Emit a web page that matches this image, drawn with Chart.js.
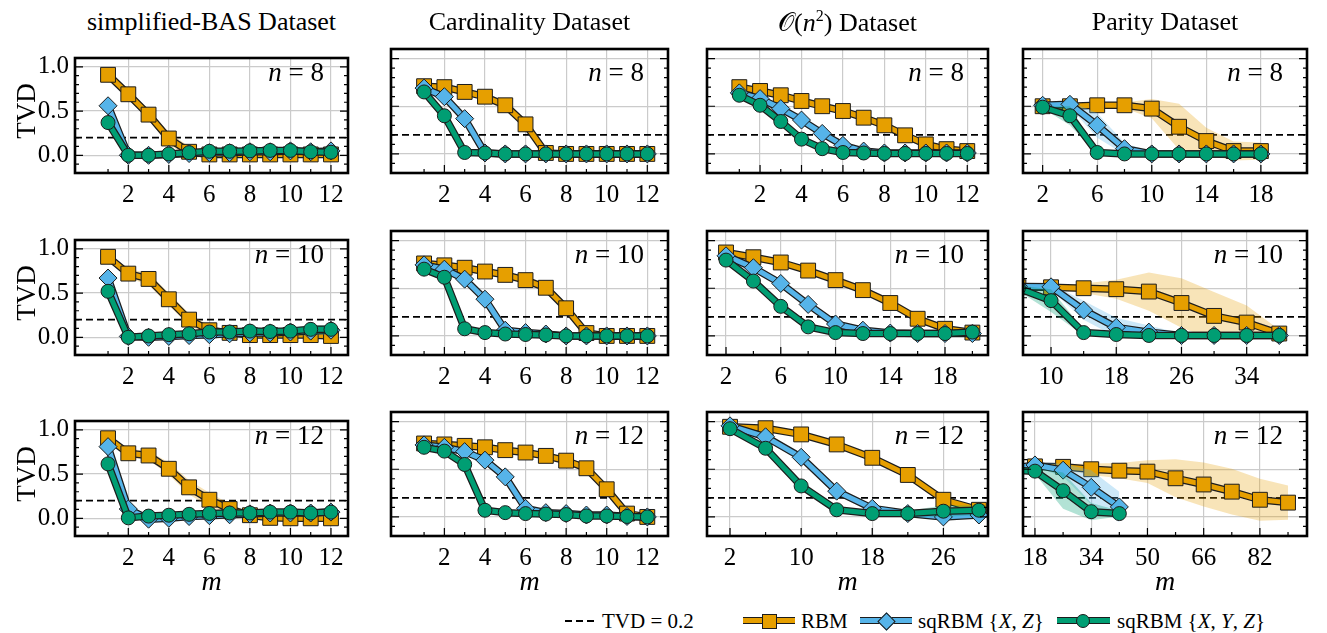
<!DOCTYPE html>
<html>
<head>
<meta charset="utf-8">
<script src="https://cdn.jsdelivr.net/npm/chart.js@4.4.1/dist/chart.umd.min.js"></script>
<style>
  body { margin: 0; background: #fff; }
  #page { position: relative; width: 1327px; height: 633px; overflow: hidden; font-family: 'Liberation Serif', 'DejaVu Serif', serif; }
  #page canvas { position: absolute; }
  .t { position: absolute; white-space: nowrap; color: #000; line-height: 1; }
</style>
</head>
<body>
<div id="page"></div>
<script>
// ---- x values and tick labels ----
const basM = [1, 2, 3, 4, 5, 6, 7, 8, 9, 10, 11, 12];
const basMajor = [2, 4, 6, 8, 10, 12];
const par8M = [2, 4, 6, 8, 10, 12, 14, 16, 18];
const par8Major = [2, 6, 10, 14, 18];
const o10M = [2, 4, 6, 8, 10, 12, 14, 16, 18, 20];
const o10Major = [2, 6, 10, 14, 18];
const par10M = [6, 10, 14, 18, 22, 26, 30, 34, 38];
const par10Major = [10, 18, 26, 34];
const o12M = [2, 6, 10, 14, 18, 22, 26, 30];
const o12Major = [2, 10, 18, 26];
const par12M = [10, 18, 26, 34, 42, 50, 58, 66, 74, 82, 90];
const par12SqM = [10, 18, 26, 34, 42];
const par12Major = [18, 34, 50, 66, 82];
const yMajor = [0.0, 0.5, 1.0];
const yMinor = [-0.1, 0.0, 0.1, 0.2, 0.3, 0.4, 0.5, 0.6, 0.7, 0.8, 0.9, 1.0];

const datasetTitles = ['simplified-BAS Dataset', 'Cardinality Dataset', '<span style="font-family:\'DejaVu Sans\'">𝒪</span>(<i>n</i><sup style="font-size:16px">2</sup>) Dataset', 'Parity Dataset'];
const qubitCounts = [8, 10, 12];

// ---- n = 8 ----
const bas8Rbm = [0.91, 0.69, 0.46, 0.19, 0.04, 0.01, 0.01, 0.01, 0.01, 0.01, 0.01, 0.01];
const bas8Xz = [0.56, 0.0, 0.0, 0.01, 0.02, 0.03, 0.03, 0.04, 0.04, 0.05, 0.04, 0.05];
const bas8Xyz = [0.37, 0.0, 0.0, 0.015, 0.03, 0.045, 0.045, 0.05, 0.055, 0.055, 0.04, 0.035];
const bas8RbmSd = [0.03, 0.05, 0.06, 0.07, 0.06, 0.04, 0.02, 0.01, 0.01, 0.01, 0.01, 0.01];
const bas8XzSd = [0.02, 0.01, 0.01, 0.01, 0.01, 0.01, 0.01, 0.02, 0.03, 0.03, 0.03, 0.04];
const bas8XyzSd = [0.02, 0.01, 0.01, 0.01, 0.01, 0.01, 0.01, 0.01, 0.02, 0.02, 0.02, 0.02];

const card8Rbm = [0.71, 0.70, 0.65, 0.60, 0.51, 0.31, 0.01, 0.0, 0.0, 0.0, 0.0, 0.0];
const card8Xz = [0.69, 0.60, 0.37, 0.01, 0.0, 0.0, 0.0, 0.0, 0.0, 0.0, 0.0, 0.0];
const card8Xyz = [0.65, 0.40, 0.015, 0.01, 0.0, 0.0, 0.0, 0.0, 0.0, 0.0, 0.0, 0.0];
const card8RbmSd = [0.01, 0.01, 0.01, 0.01, 0.01, 0.01, 0.01, 0.01, 0.01, 0.01, 0.01, 0.01];
const card8XzSd = [0.01, 0.01, 0.01, 0.01, 0.01, 0.01, 0.01, 0.01, 0.01, 0.01, 0.01, 0.01];
const card8XyzSd = [0.01, 0.01, 0.01, 0.01, 0.01, 0.01, 0.01, 0.01, 0.01, 0.01, 0.01, 0.01];

const o8Rbm = [0.70, 0.66, 0.615, 0.555, 0.50, 0.45, 0.38, 0.30, 0.195, 0.10, 0.05, 0.03];
const o8Xz = [0.64, 0.58, 0.475, 0.355, 0.215, 0.09, 0.03, 0.01, 0.01, 0.01, 0.01, 0.01];
const o8Xyz = [0.615, 0.51, 0.34, 0.155, 0.055, 0.015, 0.01, 0.005, 0.005, 0.005, 0.005, 0.005];
const o8RbmSd = [0.01, 0.01, 0.01, 0.01, 0.01, 0.01, 0.01, 0.01, 0.01, 0.01, 0.01, 0.01];
const o8XzSd = [0.01, 0.01, 0.01, 0.01, 0.01, 0.01, 0.01, 0.01, 0.01, 0.01, 0.01, 0.01];
const o8XyzSd = [0.01, 0.01, 0.01, 0.01, 0.01, 0.01, 0.01, 0.01, 0.01, 0.01, 0.01, 0.01];

const par8Rbm = [0.50, 0.50, 0.51, 0.51, 0.475, 0.285, 0.135, 0.03, 0.03];
const par8Xz = [0.51, 0.52, 0.30, 0.055, 0.0, 0.0, 0.0, 0.0, 0.0];
const par8Xyz = [0.49, 0.40, 0.015, 0.0, 0.0, 0.0, 0.0, 0.0, 0.0];
const par8RbmSd = [0.01, 0.01, 0.01, 0.03, 0.10, 0.24, 0.14, 0.10, 0.09];
const par8XzSd = [0.01, 0.03, 0.13, 0.06, 0.02, 0.01, 0.01, 0.01, 0.01];
const par8XyzSd = [0.01, 0.10, 0.02, 0.01, 0.01, 0.01, 0.01, 0.01, 0.01];

// ---- n = 10 ----
const bas10Rbm = [0.91, 0.72, 0.66, 0.43, 0.20, 0.08, 0.05, 0.025, 0.025, 0.025, 0.025, 0.015];
const bas10Xz = [0.67, 0.01, 0.0, 0.01, 0.02, 0.03, 0.04, 0.05, 0.05, 0.06, 0.07, 0.08];
const bas10Xyz = [0.52, 0.0, 0.015, 0.03, 0.04, 0.06, 0.06, 0.07, 0.065, 0.07, 0.09, 0.09];
const bas10RbmSd = [0.03, 0.05, 0.07, 0.07, 0.07, 0.05, 0.03, 0.02, 0.02, 0.02, 0.02, 0.02];
const bas10XzSd = [0.02, 0.01, 0.01, 0.01, 0.01, 0.01, 0.02, 0.03, 0.03, 0.04, 0.05, 0.05];
const bas10XyzSd = [0.02, 0.01, 0.01, 0.01, 0.01, 0.01, 0.02, 0.02, 0.03, 0.04, 0.05, 0.05];

const card10Rbm = [0.76, 0.74, 0.715, 0.675, 0.64, 0.585, 0.505, 0.29, 0.03, 0.0, 0.0, 0.0];
const card10Xz = [0.745, 0.70, 0.595, 0.385, 0.06, 0.035, 0.02, 0.0, 0.0, 0.0, 0.0, 0.0];
const card10Xyz = [0.70, 0.615, 0.075, 0.035, 0.02, 0.015, 0.01, 0.0, 0.0, 0.0, 0.0, 0.0];
const card10RbmSd = [0.01, 0.01, 0.01, 0.01, 0.01, 0.01, 0.01, 0.01, 0.01, 0.01, 0.01, 0.01];
const card10XzSd = [0.01, 0.01, 0.01, 0.01, 0.01, 0.01, 0.01, 0.01, 0.01, 0.01, 0.01, 0.01];
const card10XyzSd = [0.01, 0.01, 0.01, 0.01, 0.01, 0.01, 0.01, 0.01, 0.01, 0.01, 0.01, 0.01];

const o10Rbm = [0.875, 0.825, 0.77, 0.685, 0.585, 0.48, 0.345, 0.18, 0.075, 0.035];
const o10Xz = [0.84, 0.715, 0.55, 0.33, 0.125, 0.06, 0.03, 0.025, 0.025, 0.025];
const o10Xyz = [0.795, 0.575, 0.31, 0.095, 0.035, 0.025, 0.025, 0.025, 0.025, 0.04];
const o10RbmSd = [0.01, 0.01, 0.01, 0.01, 0.01, 0.01, 0.01, 0.01, 0.01, 0.01];
const o10XzSd = [0.01, 0.01, 0.01, 0.01, 0.01, 0.01, 0.01, 0.01, 0.02, 0.03];
const o10XyzSd = [0.01, 0.01, 0.01, 0.01, 0.01, 0.01, 0.01, 0.01, 0.02, 0.03];

const par10Rbm = [0.51, 0.51, 0.50, 0.49, 0.465, 0.345, 0.21, 0.14, 0.025];
const par10Xz = [0.52, 0.515, 0.27, 0.09, 0.04, 0.005, 0.005, 0.005, 0.005];
const par10Xyz = [0.50, 0.37, 0.035, 0.015, 0.005, 0.005, 0.005, 0.005, 0.005];
const par10RbmSd = [0.01, 0.01, 0.05, 0.10, 0.20, 0.26, 0.25, 0.18, 0.04];
const par10XzSd = [0.02, 0.03, 0.10, 0.10, 0.07, 0.02, 0.01, 0.01, 0.01];
const par10XyzSd = [0.03, 0.12, 0.03, 0.01, 0.01, 0.01, 0.01, 0.01, 0.01];

// ---- n = 12 ----
const bas12Rbm = [0.905, 0.735, 0.71, 0.56, 0.35, 0.21, 0.105, 0.035, 0.005, 0.0, 0.0, 0.0];
const bas12Xz = [0.81, 0.105, -0.01, 0.0, 0.02, 0.03, 0.04, 0.05, 0.06, 0.06, 0.06, 0.07];
const bas12Xyz = [0.615, 0.005, 0.025, 0.035, 0.045, 0.055, 0.06, 0.06, 0.07, 0.07, 0.06, 0.07];
const bas12RbmSd = [0.03, 0.05, 0.05, 0.07, 0.08, 0.08, 0.06, 0.03, 0.02, 0.02, 0.02, 0.02];
const bas12XzSd = [0.02, 0.02, 0.01, 0.01, 0.01, 0.01, 0.02, 0.02, 0.02, 0.03, 0.04, 0.05];
const bas12XyzSd = [0.02, 0.01, 0.01, 0.01, 0.01, 0.01, 0.01, 0.02, 0.02, 0.02, 0.03, 0.03];

const card12Rbm = [0.77, 0.76, 0.745, 0.73, 0.70, 0.675, 0.64, 0.59, 0.51, 0.29, 0.035, 0.0];
const card12Xz = [0.755, 0.73, 0.685, 0.595, 0.42, 0.09, 0.045, 0.035, 0.02, 0.02, 0.005, 0.0];
const card12Xyz = [0.73, 0.69, 0.55, 0.07, 0.045, 0.035, 0.03, 0.025, 0.01, 0.01, 0.005, 0.0];
const card12RbmSd = [0.01, 0.01, 0.01, 0.01, 0.01, 0.01, 0.01, 0.01, 0.01, 0.01, 0.01, 0.01];
const card12XzSd = [0.01, 0.01, 0.01, 0.01, 0.01, 0.01, 0.01, 0.01, 0.01, 0.01, 0.01, 0.01];
const card12XyzSd = [0.01, 0.01, 0.01, 0.01, 0.01, 0.01, 0.01, 0.01, 0.01, 0.01, 0.01, 0.01];

const o12Rbm = [0.945, 0.93, 0.865, 0.76, 0.62, 0.44, 0.18, 0.075];
const o12Xz = [0.955, 0.84, 0.625, 0.27, 0.09, 0.035, 0.0, 0.02];
const o12Xyz = [0.925, 0.72, 0.325, 0.075, 0.035, 0.035, 0.06, 0.07];
const o12RbmSd = [0.01, 0.01, 0.01, 0.01, 0.01, 0.01, 0.01, 0.01];
const o12XzSd = [0.01, 0.01, 0.01, 0.01, 0.01, 0.02, 0.03, 0.03];
const o12XyzSd = [0.01, 0.01, 0.01, 0.01, 0.01, 0.03, 0.06, 0.05];

const par12Rbm = [0.51, 0.53, 0.525, 0.50, 0.485, 0.475, 0.405, 0.34, 0.265, 0.18, 0.15];
const par12Xz = [0.50, 0.545, 0.49, 0.31, 0.105];
const par12Xyz = [0.49, 0.48, 0.275, 0.055, 0.035];
const par12RbmSd = [0.01, 0.01, 0.03, 0.06, 0.08, 0.12, 0.20, 0.23, 0.24, 0.22, 0.18];
const par12XzSd = [0.01, 0.02, 0.07, 0.18, 0.16];
const par12XyzSd = [0.01, 0.03, 0.19, 0.09, 0.03];

// ---- layout ----
const FONT = "'Liberation Serif', 'DejaVu Serif', serif";
const COLORS = { rbm: '#E69F00', xz: '#56B4E9', xyz: '#009E73' };
const BANDS = { rbm: 'rgba(230,159,0,0.28)', xz: 'rgba(86,180,233,0.3)', xyz: 'rgba(0,158,115,0.3)' };
const EDGE = '#1c1c1c';
const colLeft = [75, 391, 707, 1023];
const colWidth = [273, 277, 281, 284];
const rowTop = [49, 231, 412];
const panelH = 124;
const padL = 62, padT = 12, padR = 20, padB = 42;

const panels = [
  { m: basM, sqM: basM, rbm: bas8Rbm, xz: bas8Xz, xyz: bas8Xyz, rbmSd: bas8RbmSd, xzSd: bas8XzSd, xyzSd: bas8XyzSd, xlim: [-0.63, 12.84], major: basMajor },
  { m: basM, sqM: basM, rbm: card8Rbm, xz: card8Xz, xyz: card8Xyz, rbmSd: card8RbmSd, xzSd: card8XzSd, xyzSd: card8XyzSd, xlim: [-0.63, 13.02], major: basMajor },
  { m: basM, sqM: basM, rbm: o8Rbm, xz: o8Xz, xyz: o8Xyz, rbmSd: o8RbmSd, xzSd: o8XzSd, xyzSd: o8XyzSd, xlim: [-0.56, 13.0], major: basMajor },
  { m: par8M, sqM: par8M, rbm: par8Rbm, xz: par8Xz, xyz: par8Xyz, rbmSd: par8RbmSd, xzSd: par8XzSd, xyzSd: par8XyzSd, xlim: [0.56, 21.38], major: par8Major },
  { m: basM, sqM: basM, rbm: bas10Rbm, xz: bas10Xz, xyz: bas10Xyz, rbmSd: bas10RbmSd, xzSd: bas10XzSd, xyzSd: bas10XyzSd, xlim: [-0.63, 12.84], major: basMajor },
  { m: basM, sqM: basM, rbm: card10Rbm, xz: card10Xz, xyz: card10Xyz, rbmSd: card10RbmSd, xzSd: card10XzSd, xyzSd: card10XyzSd, xlim: [-0.63, 13.02], major: basMajor },
  { m: o10M, sqM: o10M, rbm: o10Rbm, xz: o10Xz, xyz: o10Xyz, rbmSd: o10RbmSd, xzSd: o10XzSd, xyzSd: o10XyzSd, xlim: [0.61, 21.14], major: o10Major },
  { m: par10M, sqM: par10M, rbm: par10Rbm, xz: par10Xz, xyz: par10Xyz, rbmSd: par10RbmSd, xzSd: par10XzSd, xyzSd: par10XyzSd, xlim: [6.56, 41.4], major: par10Major },
  { m: basM, sqM: basM, rbm: bas12Rbm, xz: bas12Xz, xyz: bas12Xyz, rbmSd: bas12RbmSd, xzSd: bas12XzSd, xyzSd: bas12XyzSd, xlim: [-0.63, 12.84], major: basMajor },
  { m: basM, sqM: basM, rbm: card12Rbm, xz: card12Xz, xyz: card12Xyz, rbmSd: card12RbmSd, xzSd: card12XzSd, xyzSd: card12XyzSd, xlim: [-0.63, 13.02], major: basMajor },
  { m: o12M, sqM: o12M, rbm: o12Rbm, xz: o12Xz, xyz: o12Xyz, rbmSd: o12RbmSd, xzSd: o12XzSd, xyzSd: o12XyzSd, xlim: [-0.59, 31.02], major: o12Major },
  { m: par12M, sqM: par12SqM, rbm: par12Rbm, xz: par12Xz, xyz: par12Xyz, rbmSd: par12RbmSd, xzSd: par12XzSd, xyzSd: par12XyzSd, xlim: [14.59, 95.4], major: par12Major }
];

const page = document.getElementById('page');

function addText(html, x, y, size, opts = {}) {
  const d = document.createElement('div');
  d.className = 't';
  d.innerHTML = html;
  d.style.fontSize = size + 'px';
  d.style.left = x + 'px';
  d.style.top = y + 'px';
  d.style.transform = opts.transform || 'translate(-50%, -50%)';
  if (opts.style) Object.assign(d.style, opts.style);
  page.appendChild(d);
  return d;
}

// frame, inward ticks on the bottom / left / right
const framePlugin = {
  id: 'frame',
  afterDatasetsDraw(chart, args, opts) {
    const { ctx, chartArea: a, scales: { x, y } } = chart;
    ctx.save();
    ctx.strokeStyle = '#000';
    ctx.lineWidth = 1.2;
    ctx.beginPath();
    yMinor.forEach(v => {
      const py = y.getPixelForValue(v);
      const len = yMajor.includes(v) ? 8 : 4;
      ctx.moveTo(a.left, py); ctx.lineTo(a.left + len, py);
      ctx.moveTo(a.right, py); ctx.lineTo(a.right - len, py);
    });
    opts.minor.forEach(v => {
      if (v <= x.min || v >= x.max) return;
      const px = x.getPixelForValue(v);
      const len = opts.major.includes(v) ? 8 : 4;
      ctx.moveTo(px, a.bottom); ctx.lineTo(px, a.bottom - len);
    });
    ctx.stroke();
    ctx.lineWidth = 2.6;
    ctx.strokeRect(a.left, a.top, a.right - a.left, a.bottom - a.top);
    ctx.restore();
  }
};

function makePanel(p, idx) {
  const col = idx % 4, row = Math.floor(idx / 4);
  const panelW = colWidth[col];
  const cv = document.createElement('canvas');
  cv.width = panelW + padL + padR;
  cv.height = panelH + padT + padB;
  cv.style.left = (colLeft[col] - padL) + 'px';
  cv.style.top = (rowTop[row] - padT) + 'px';
  page.appendChild(cv);

  const ds = [];
  ds.push({ data: [{ x: p.xlim[0], y: 0.2 }, { x: p.xlim[1], y: 0.2 }], borderColor: '#000', borderWidth: 1.6, borderDash: [7, 4], pointRadius: 0, order: 1000, clip: 0 });

  const series = [
    ['rbm', p.m, 'rect', 10.5],
    ['xz', p.sqM, 'rectRot', 9],
    ['xyz', p.sqM, 'circle', 7]
  ];
  series.forEach(([key, xs, shape, r], k) => {
    const ys = p[key], sd = p[key + 'Sd'];
    const base = 300 - k * 100;
    ds.push({ data: ys.map((v, i) => ({ x: xs[i], y: v - sd[i] })), borderColor: 'transparent', borderWidth: 0, pointRadius: 0, fill: false, order: base + 50, clip: 0 });
    ds.push({ data: ys.map((v, i) => ({ x: xs[i], y: v + sd[i] })), borderColor: 'transparent', borderWidth: 0, pointRadius: 0, fill: '-1', backgroundColor: BANDS[key], order: base + 40, clip: 0 });
    ds.push({ data: ys.map((v, i) => ({ x: xs[i], y: v })), borderColor: EDGE, borderWidth: 7.5, pointRadius: 0, order: base + 20, clip: 0 });
    ds.push({
      data: ys.map((v, i) => ({ x: xs[i], y: v })), borderColor: COLORS[key], borderWidth: 5,
      pointStyle: shape, pointRadius: r, pointBackgroundColor: COLORS[key], pointBorderColor: EDGE, pointBorderWidth: 1,
      order: base + 10, clip: 0
    });
  });

  new Chart(cv, {
    type: 'line',
    data: { datasets: ds },
    options: {
      responsive: false,
      animation: false,
      events: [],
      layout: { padding: { left: 0, top: padT, right: padR, bottom: 0 } },
      elements: { line: { tension: 0, borderCapStyle: 'butt', borderJoinStyle: 'round' } },
      plugins: { legend: { display: false }, tooltip: { enabled: false }, frame: { major: p.major, minor: p.sqM.length > p.m.length ? p.sqM : p.m } },
      scales: {
        x: {
          type: 'linear', min: p.xlim[0], max: p.xlim[1],
          afterBuildTicks: s => { s.ticks = p.major.map(v => ({ value: v })); },
          afterFit: s => { s.height = padB; },
          grid: { color: '#cbcbcb', lineWidth: 1.2, drawTicks: false },
          border: { display: false },
          ticks: { color: '#000', font: { family: FONT, size: 25 }, padding: 7, maxRotation: 0, autoSkip: false, callback: v => String(v) }
        },
        y: {
          type: 'linear', min: -0.2, max: 1.1,
          afterBuildTicks: s => { s.ticks = yMajor.map(v => ({ value: v })); },
          afterFit: s => { s.width = padL; },
          grid: { color: '#cbcbcb', lineWidth: 1.2, drawTicks: false },
          border: { display: false },
          ticks: { display: col === 0, color: '#000', font: { family: FONT, size: 25 }, padding: 6, callback: v => v.toFixed(1) }
        }
      }
    },
    plugins: [framePlugin]
  });

  // n label in the top right corner
  addText('<i>n</i> = ' + qubitCounts[row], colLeft[col] + panelW - 24, rowTop[row] + 23, 27, { transform: 'translate(-100%, -50%)' });
}

panels.forEach(makePanel);

// column titles, axis titles
datasetTitles.forEach((t, c) => addText(t, colLeft[c] + colWidth[c] / 2, 22, 26));
rowTop.forEach(t => addText('TVD', 26, t + panelH / 2, 27, { style: { transform: 'translate(-50%, -50%) rotate(-90deg)' } }));
colLeft.forEach((l, c) => addText('<i>m</i>', l + colWidth[c] / 2, 581, 28));

// legend
function legendLine(x1, x2, color) {
  const d = document.createElement('div');
  Object.assign(d.style, { position: 'absolute', left: x1 + 'px', top: '617px', width: (x2 - x1) + 'px', height: '5px', background: color, border: '1px solid ' + EDGE, borderLeft: 'none', borderRight: 'none' });
  page.appendChild(d);
}
function legendMarker(cx, size, color, style) {
  const d = document.createElement('div');
  Object.assign(d.style, { position: 'absolute', left: (cx - size / 2) + 'px', top: (621 - size / 2) + 'px', width: size + 'px', height: size + 'px', background: color, border: '1px solid ' + EDGE, boxSizing: 'border-box' }, style);
  page.appendChild(d);
}
const dash = document.createElement('div');
Object.assign(dash.style, { position: 'absolute', left: '565px', top: '620px', width: '32px', height: '2px', background: 'repeating-linear-gradient(to right, #000 0 7px, transparent 7px 11px)' });
page.appendChild(dash);
addText('TVD = 0.2', 602, 621, 21, { transform: 'translate(0, -50%)' });
legendLine(743, 795, COLORS.rbm);
legendMarker(769, 15, COLORS.rbm, {});
addText('RBM', 801, 621, 21, { transform: 'translate(0, -50%)' });
legendLine(860, 912, COLORS.xz);
legendMarker(886, 13, COLORS.xz, { transform: 'rotate(45deg)' });
addText('sqRBM {<i>X</i>, <i>Z</i>}', 918, 621, 21, { transform: 'translate(0, -50%)' });
legendLine(1057, 1110, COLORS.xyz);
legendMarker(1083, 14, COLORS.xyz, { borderRadius: '50%' });
addText('sqRBM {<i>X</i>, <i>Y</i>, <i>Z</i>}', 1117, 621, 21, { transform: 'translate(0, -50%)' });
</script>
</body>
</html>
